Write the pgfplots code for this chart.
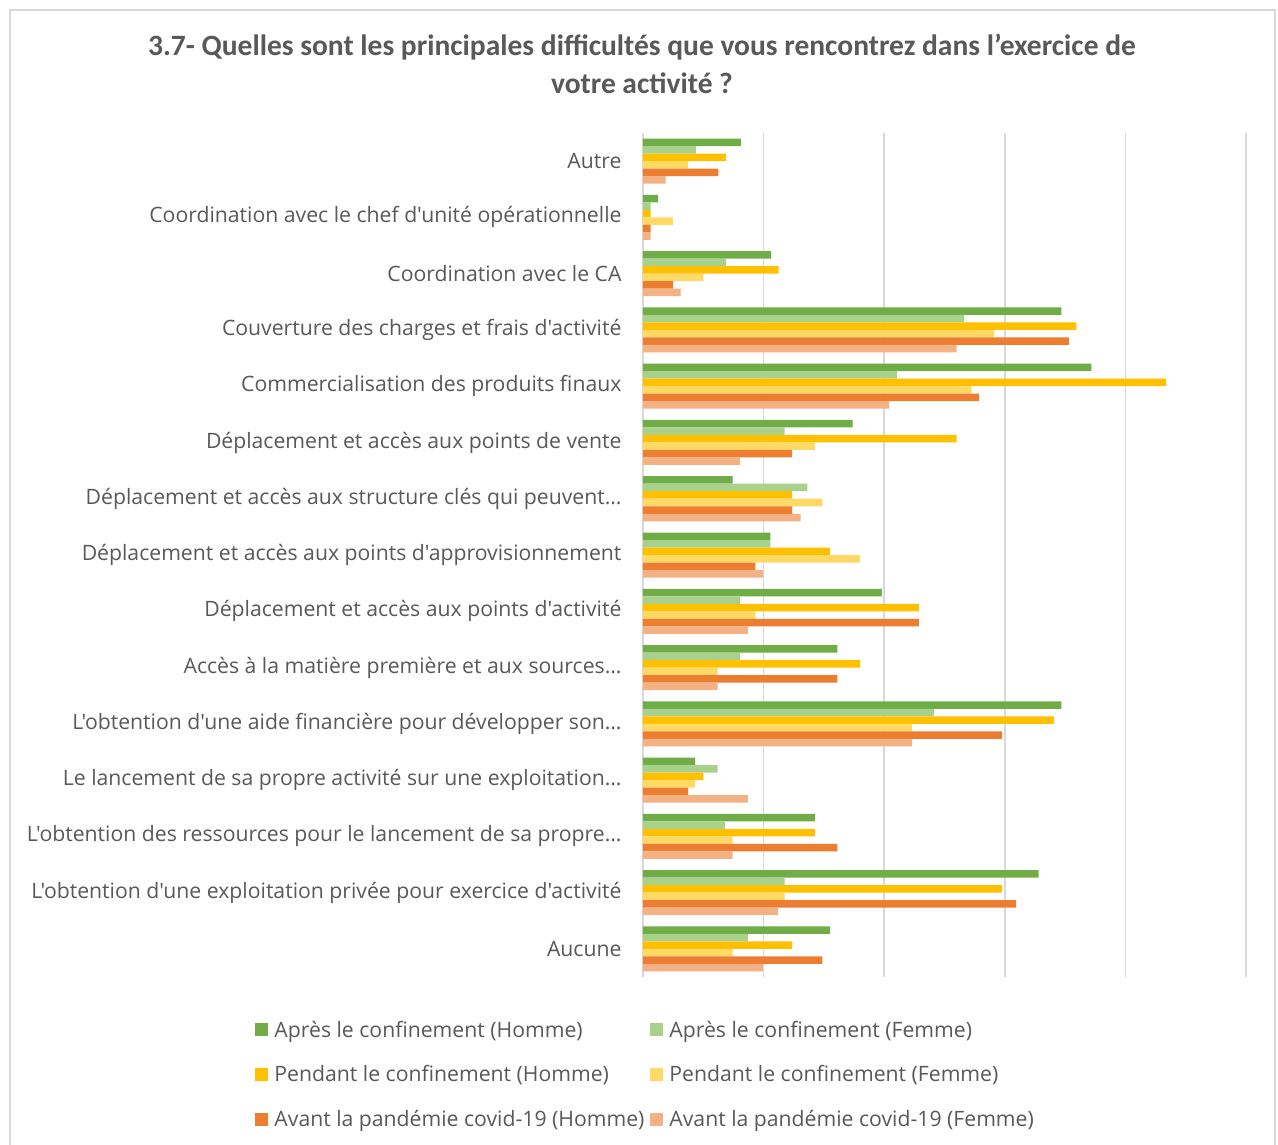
\documentclass[border=0pt]{standalone}
\usepackage{fontspec}
\setmainfont{Carlito}[Ligatures=TeXOff]
\newfontfamily\lab{Open Sans}[Ligatures=TeXOff]
\usepackage{pgfplots}
\pgfplotsset{compat=1.18}
\definecolor{txtgray}{HTML}{595959}
\definecolor{gridgray}{HTML}{D9D9D9}
\definecolor{cA}{HTML}{70AD47}
\definecolor{cB}{HTML}{A9D18E}
\definecolor{cC}{HTML}{FFC000}
\definecolor{cD}{HTML}{FFD966}
\definecolor{cE}{HTML}{ED7D31}
\definecolor{cF}{HTML}{F4B183}
\begin{document}
\begin{tikzpicture}
\useasboundingbox (0pt,0pt) rectangle (1278pt,-1145pt);
\fill[white] (0pt,0pt) rectangle (1278pt,-1145pt);
\draw[color=gridgray, line width=1.2pt] (10pt,-10pt) rectangle (1275pt,-1170pt);
\node[font=\fontsize{29.5}{35}\selectfont\bfseries, text=txtgray] at (642pt,-47pt) {3.7- Quelles sont les principales difficultés que vous rencontrez dans l’exercice de};
\node[font=\fontsize{29.5}{35}\selectfont\bfseries, text=txtgray] at (642pt,-83pt) {votre activité ?};
\begin{axis}[
  at={(643pt,-977pt)}, anchor=south west,
  scale only axis, width=603pt, height=844pt,
  xbar=0pt, bar width=7.5pt,
  xmin=0, xmax=80, ymin=-0.5, ymax=14.5, y dir=reverse,
  xtick={0,16,...,80}, xticklabels={},
  xmajorgrids, grid style={color=gridgray, line width=1.5pt},
  ytick={0,...,14},
  yticklabels={Autre,
    Coordination avec le chef d'unité opérationnelle,
    Coordination avec le CA,
    Couverture des charges et frais d'activité,
    Commercialisation des produits finaux,
    Déplacement et accès aux points de vente,
    Déplacement et accès aux structure clés qui peuvent…,
    Déplacement et accès aux points d'approvisionnement,
    Déplacement et accès aux points d'activité,
    Accès à la matière première et aux sources…,
    L'obtention d'une aide financière pour développer son…,
    Le lancement de sa propre activité sur une exploitation…,
    L'obtention des ressources pour le lancement de sa propre…,
    L'obtention d'une exploitation privée pour exercice d'activité,
    Aucune},
  major tick length=0pt,
  axis line style={draw=none},
  yticklabel style={font=\lab\fontsize{21.2}{25}\selectfont, text=txtgray, xshift=-18pt},
  legend columns=2,
  legend cell align=left,
  legend image code/.code={\fill[#1] (0pt,-6.5pt) rectangle (13pt,6.5pt);},
  legend style={at={(-0.648,-0.047)}, anchor=north west, draw=none,
    font=\lab\fontsize{21.2}{25}\selectfont, text=txtgray, row sep=23pt,
    /tikz/every odd column/.append style={column sep=4pt},
    /tikz/every even column/.append style={column sep=4pt}},
  every axis plot/.append style={draw=none},
]
\addplot[fill=cA, bar shift=18.75pt] coordinates {(13,0) (2,1) (17,2) (55.5,3) (59.5,4) (27.8,5) (11.9,6) (16.9,7) (31.7,8) (25.8,9) (55.5,10) (6.9,11) (22.8,12) (52.5,13) (24.8,14)};
\addplot[fill=cB, bar shift=11.25pt] coordinates {(7,0) (1,1) (11,2) (42.6,3) (33.7,4) (18.8,5) (21.8,6) (16.9,7) (12.9,8) (12.9,9) (38.6,10) (9.9,11) (10.9,12) (18.8,13) (13.9,14)};
\addplot[fill=cC, bar shift=3.75pt] coordinates {(11,0) (1,1) (18,2) (57.5,3) (69.4,4) (41.6,5) (19.8,6) (24.8,7) (36.6,8) (28.8,9) (54.5,10) (8.0,11) (22.8,12) (47.6,13) (19.8,14)};
\addplot[fill=cD, bar shift=-3.75pt] coordinates {(6,0) (4,1) (8,2) (46.6,3) (43.6,4) (22.8,5) (23.8,6) (28.8,7) (14.9,8) (9.9,9) (35.7,10) (6.9,11) (11.9,12) (18.8,13) (11.9,14)};
\addplot[fill=cE, bar shift=-11.25pt] coordinates {(10,0) (1,1) (4,2) (56.5,3) (44.6,4) (19.8,5) (19.8,6) (14.9,7) (36.6,8) (25.8,9) (47.6,10) (6.0,11) (25.8,12) (49.5,13) (23.8,14)};
\addplot[fill=cF, bar shift=-18.75pt] coordinates {(3,0) (1,1) (5,2) (41.6,3) (32.7,4) (12.9,5) (20.9,6) (15.9,7) (13.9,8) (9.9,9) (35.7,10) (13.9,11) (11.9,12) (17.9,13) (15.9,14)};
\legend{Après le confinement (Homme), Après le confinement (Femme), Pendant le confinement (Homme), Pendant le confinement (Femme), Avant la pandémie covid-19 (Homme), Avant la pandémie covid-19 (Femme)}
\end{axis}
\end{tikzpicture}
\end{document}
